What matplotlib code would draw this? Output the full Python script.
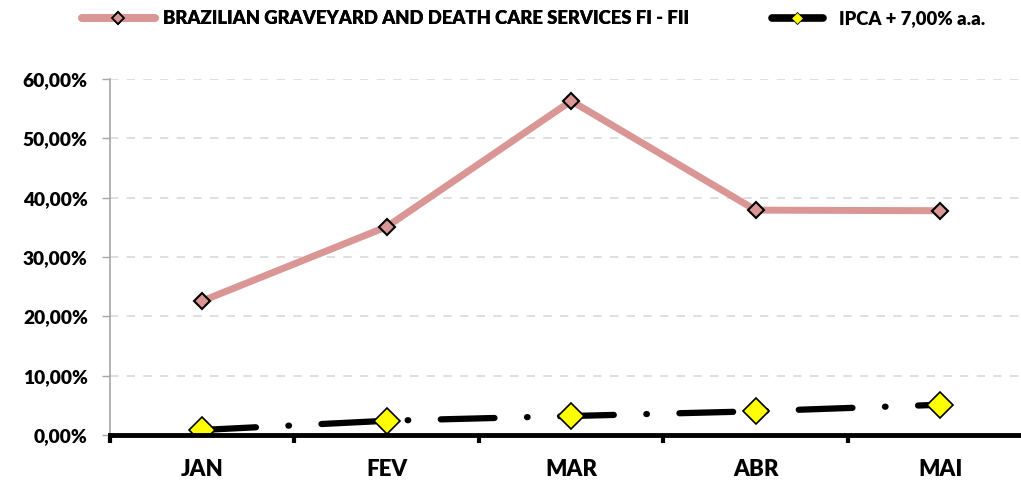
import matplotlib.pyplot as plt
from matplotlib.ticker import FuncFormatter
from matplotlib.lines import Line2D

meses = ["JAN", "FEV", "MAR", "ABR", "MAI"]
fundo = [22.6, 35.1, 56.3, 37.9, 37.8]
ipca = [0.85, 2.4, 3.2, 4.0, 5.1]
nome_fundo = "BRAZILIAN GRAVEYARD AND DEATH CARE SERVICES FI - FII"
nome_ipca = "IPCA + 7,00% a.a."

plt.rcParams['font.family'] = ['Lato', 'DejaVu Sans']
plt.rcParams['font.weight'] = 'heavy'

fig = plt.figure(figsize=(10.21, 4.83), dpi=100)
ax = fig.add_axes([110/1021, 1 - 435/483, (1021 - 110)/1021, (435 - 79)/483])

x = list(range(len(meses)))
ax.plot(x, fundo, color="#D99694", lw=5, marker="D", ms=8,
        mfc="#D99694", mec="black", mew=1.5, solid_capstyle="butt", zorder=3)
ax.plot(x, ipca, color="black", lw=4.5, dashes=(8.6, 5.2, 0.1, 5.2),
        dash_capstyle="round", marker="D", ms=13, mfc="#FFFF00",
        mec="black", mew=1.2, zorder=4)

ax.set_yticks(range(0, 61, 10))
ax.yaxis.set_major_formatter(FuncFormatter(lambda v, p: f"{v:.2f}".replace(".", ",") + "%"))
ax.set_xticks(x)
ax.set_xticklabels(meses)
ax.set_xticks([i + 0.5 for i in range(-1, 5)], minor=True)
# limites depois dos ticks (set_xticks expande a vista)
ax.set_xlim(-0.5, 4.438)
ax.set_ylim(0, 60)
ax.tick_params(axis="x", which="major", length=0, pad=17, labelsize=16)
ax.tick_params(axis="x", which="minor", length=6, width=3, color="black")
ax.tick_params(axis="y", length=6, width=1, color="#A6A6A6", labelsize=13.8, pad=10)

ax.grid(axis="y", color="#D9D9D9", ls=(0, (5, 5)), lw=1.2)
ax.set_axisbelow(True)
for s in ["top", "right"]:
    ax.spines[s].set_visible(False)
ax.spines["left"].set_color("#A6A6A6")
ax.spines["left"].set_linewidth(1.2)
ax.spines["bottom"].set_color("black")
ax.spines["bottom"].set_linewidth(3.5)
ax.spines["bottom"].set_zorder(5)

# legenda em duas partes, posicionadas como no original
h1 = Line2D([], [], color="#D99694", lw=5.5, marker="D", ms=6, mfc="#D99694",
            mec="black", mew=1.3, solid_capstyle="round")
h2 = Line2D([], [], color="black", lw=5.5, marker="D", ms=6, mfc="#FFFF00",
            mec="black", mew=0.6, solid_capstyle="round")
leg1 = fig.legend([h1], [nome_fundo], loc="center left", bbox_to_anchor=(82/1021, 1 - 19/483),
                  frameon=False, fontsize=13.3, handlelength=3.95, handletextpad=0.42,
                  borderpad=0, borderaxespad=0)
fig.add_artist(leg1)
fig.legend([h2], [nome_ipca], loc="center left", bbox_to_anchor=(772/1021, 1 - 19/483),
           frameon=False, fontsize=13.3, handlelength=2.75, handletextpad=0.85,
           borderpad=0, borderaxespad=0)

fig.savefig("out.png", dpi=100)
